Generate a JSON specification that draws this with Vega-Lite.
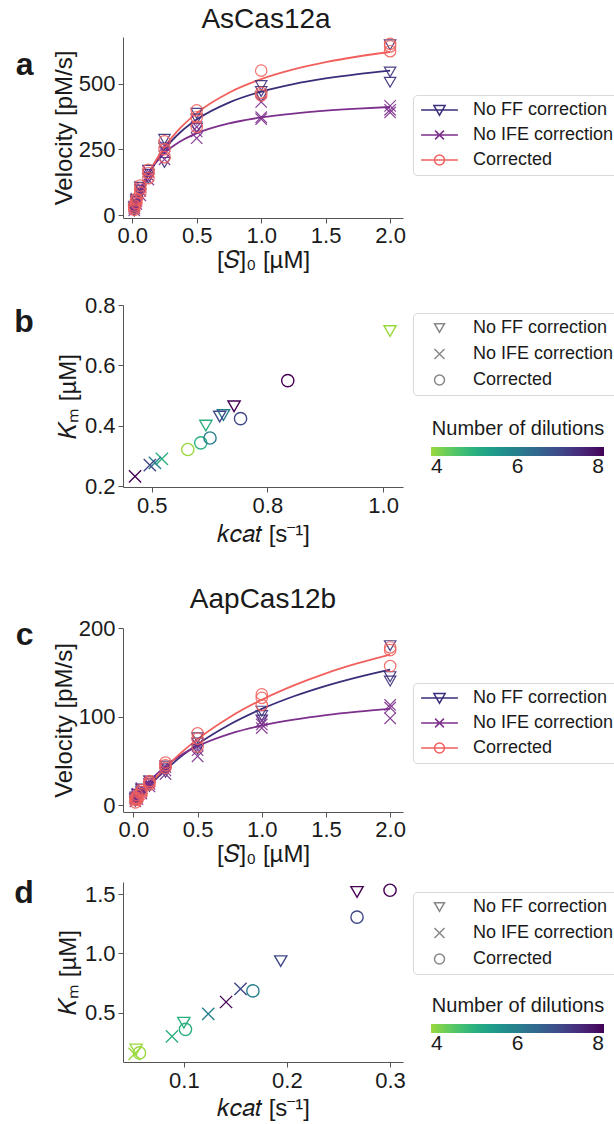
{
"$schema": "https://vega.github.io/schema/vega-lite/v6.json",
"autosize": {"type": "none"},
"padding": {"left": 123, "top": 0, "right": 491, "bottom": 1124},
"background": "white",
"config": {
  "font": "Liberation Sans",
  "view": {"stroke": null},
  "axis": {"grid": false, "labelFontSize": 22, "titleFontSize": 24, "titleFontWeight": "normal", "labelColor": "#1a1a1a", "titleColor": "#1a1a1a", "domainColor": "#555555", "tickColor": "#555555", "tickSize": 5, "labelPadding": 3, "labelFlush": false, "labelOverlap": false},
  "title": {"fontSize": 28, "fontWeight": "normal", "color": "#1a1a1a"},
  "legend": {"labelFontSize": 18, "labelColor": "#1a1a1a", "titleColor": "#1a1a1a"}
},
"datasets": {
"kin": [
{"p":"a","s":"No FF correction","S":0.015625,"v":15},{"p":"a","s":"No FF correction","S":0.015625,"v":22},{"p":"a","s":"No FF correction","S":0.015625,"v":30},
{"p":"a","s":"No FF correction","S":0.03125,"v":40},{"p":"a","s":"No FF correction","S":0.03125,"v":50},{"p":"a","s":"No FF correction","S":0.03125,"v":58},
{"p":"a","s":"No FF correction","S":0.0625,"v":80},{"p":"a","s":"No FF correction","S":0.0625,"v":95},{"p":"a","s":"No FF correction","S":0.0625,"v":105},
{"p":"a","s":"No FF correction","S":0.125,"v":140},{"p":"a","s":"No FF correction","S":0.125,"v":155},{"p":"a","s":"No FF correction","S":0.125,"v":170},
{"p":"a","s":"No FF correction","S":0.25,"v":200},{"p":"a","s":"No FF correction","S":0.25,"v":255},{"p":"a","s":"No FF correction","S":0.25,"v":288},
{"p":"a","s":"No FF correction","S":0.5,"v":330},{"p":"a","s":"No FF correction","S":0.5,"v":365},{"p":"a","s":"No FF correction","S":0.5,"v":387},
{"p":"a","s":"No FF correction","S":1,"v":450},{"p":"a","s":"No FF correction","S":1,"v":470},{"p":"a","s":"No FF correction","S":1,"v":492},
{"p":"a","s":"No FF correction","S":2,"v":505},{"p":"a","s":"No FF correction","S":2,"v":544},{"p":"a","s":"No FF correction","S":2,"v":647},
{"p":"a","s":"No IFE correction","S":0.015625,"v":18},{"p":"a","s":"No IFE correction","S":0.015625,"v":26},{"p":"a","s":"No IFE correction","S":0.015625,"v":33},
{"p":"a","s":"No IFE correction","S":0.03125,"v":42},{"p":"a","s":"No IFE correction","S":0.03125,"v":52},{"p":"a","s":"No IFE correction","S":0.03125,"v":62},
{"p":"a","s":"No IFE correction","S":0.0625,"v":75},{"p":"a","s":"No IFE correction","S":0.0625,"v":92},{"p":"a","s":"No IFE correction","S":0.0625,"v":108},
{"p":"a","s":"No IFE correction","S":0.125,"v":135},{"p":"a","s":"No IFE correction","S":0.125,"v":150},{"p":"a","s":"No IFE correction","S":0.125,"v":165},
{"p":"a","s":"No IFE correction","S":0.25,"v":212},{"p":"a","s":"No IFE correction","S":0.25,"v":240},{"p":"a","s":"No IFE correction","S":0.25,"v":262},
{"p":"a","s":"No IFE correction","S":0.5,"v":292},{"p":"a","s":"No IFE correction","S":0.5,"v":318},{"p":"a","s":"No IFE correction","S":0.5,"v":335},
{"p":"a","s":"No IFE correction","S":1,"v":365},{"p":"a","s":"No IFE correction","S":1,"v":372},{"p":"a","s":"No IFE correction","S":1,"v":430},
{"p":"a","s":"No IFE correction","S":2,"v":390},{"p":"a","s":"No IFE correction","S":2,"v":400},{"p":"a","s":"No IFE correction","S":2,"v":415},
{"p":"a","s":"Corrected","S":0.015625,"v":20},{"p":"a","s":"Corrected","S":0.015625,"v":28},{"p":"a","s":"Corrected","S":0.015625,"v":36},
{"p":"a","s":"Corrected","S":0.03125,"v":45},{"p":"a","s":"Corrected","S":0.03125,"v":55},{"p":"a","s":"Corrected","S":0.03125,"v":62},
{"p":"a","s":"Corrected","S":0.0625,"v":85},{"p":"a","s":"Corrected","S":0.0625,"v":100},{"p":"a","s":"Corrected","S":0.0625,"v":112},
{"p":"a","s":"Corrected","S":0.125,"v":140},{"p":"a","s":"Corrected","S":0.125,"v":160},{"p":"a","s":"Corrected","S":0.125,"v":172},
{"p":"a","s":"Corrected","S":0.25,"v":220},{"p":"a","s":"Corrected","S":0.25,"v":250},{"p":"a","s":"Corrected","S":0.25,"v":280},
{"p":"a","s":"Corrected","S":0.5,"v":335},{"p":"a","s":"Corrected","S":0.5,"v":372},{"p":"a","s":"Corrected","S":0.5,"v":398},
{"p":"a","s":"Corrected","S":1,"v":455},{"p":"a","s":"Corrected","S":1,"v":465},{"p":"a","s":"Corrected","S":1,"v":549},
{"p":"a","s":"Corrected","S":2,"v":623},{"p":"a","s":"Corrected","S":2,"v":641},{"p":"a","s":"Corrected","S":2,"v":651},
{"p":"c","s":"No FF correction","S":0.015625,"v":4},{"p":"c","s":"No FF correction","S":0.015625,"v":6},{"p":"c","s":"No FF correction","S":0.015625,"v":8},
{"p":"c","s":"No FF correction","S":0.03125,"v":6},{"p":"c","s":"No FF correction","S":0.03125,"v":9},{"p":"c","s":"No FF correction","S":0.03125,"v":12},
{"p":"c","s":"No FF correction","S":0.0625,"v":12},{"p":"c","s":"No FF correction","S":0.0625,"v":15},{"p":"c","s":"No FF correction","S":0.0625,"v":18},
{"p":"c","s":"No FF correction","S":0.125,"v":21},{"p":"c","s":"No FF correction","S":0.125,"v":24},{"p":"c","s":"No FF correction","S":0.125,"v":27},
{"p":"c","s":"No FF correction","S":0.25,"v":37},{"p":"c","s":"No FF correction","S":0.25,"v":41},{"p":"c","s":"No FF correction","S":0.25,"v":44},
{"p":"c","s":"No FF correction","S":0.5,"v":63},{"p":"c","s":"No FF correction","S":0.5,"v":70},{"p":"c","s":"No FF correction","S":0.5,"v":76},
{"p":"c","s":"No FF correction","S":1,"v":96},{"p":"c","s":"No FF correction","S":1,"v":101},{"p":"c","s":"No FF correction","S":1,"v":106},
{"p":"c","s":"No FF correction","S":2,"v":140},{"p":"c","s":"No FF correction","S":2,"v":145},{"p":"c","s":"No FF correction","S":2,"v":180},
{"p":"c","s":"No IFE correction","S":0.015625,"v":4},{"p":"c","s":"No IFE correction","S":0.015625,"v":7},{"p":"c","s":"No IFE correction","S":0.015625,"v":9},
{"p":"c","s":"No IFE correction","S":0.03125,"v":7},{"p":"c","s":"No IFE correction","S":0.03125,"v":10},{"p":"c","s":"No IFE correction","S":0.03125,"v":13},
{"p":"c","s":"No IFE correction","S":0.0625,"v":13},{"p":"c","s":"No IFE correction","S":0.0625,"v":16},{"p":"c","s":"No IFE correction","S":0.0625,"v":19},
{"p":"c","s":"No IFE correction","S":0.125,"v":21},{"p":"c","s":"No IFE correction","S":0.125,"v":24},{"p":"c","s":"No IFE correction","S":0.125,"v":27},
{"p":"c","s":"No IFE correction","S":0.25,"v":35},{"p":"c","s":"No IFE correction","S":0.25,"v":39},{"p":"c","s":"No IFE correction","S":0.25,"v":43},
{"p":"c","s":"No IFE correction","S":0.5,"v":55},{"p":"c","s":"No IFE correction","S":0.5,"v":62},{"p":"c","s":"No IFE correction","S":0.5,"v":68},
{"p":"c","s":"No IFE correction","S":1,"v":87},{"p":"c","s":"No IFE correction","S":1,"v":91},{"p":"c","s":"No IFE correction","S":1,"v":95},
{"p":"c","s":"No IFE correction","S":2,"v":98},{"p":"c","s":"No IFE correction","S":2,"v":110},{"p":"c","s":"No IFE correction","S":2,"v":113},
{"p":"c","s":"Corrected","S":0.015625,"v":3},{"p":"c","s":"Corrected","S":0.015625,"v":6},{"p":"c","s":"Corrected","S":0.015625,"v":8},
{"p":"c","s":"Corrected","S":0.03125,"v":6},{"p":"c","s":"Corrected","S":0.03125,"v":8},{"p":"c","s":"Corrected","S":0.03125,"v":11},
{"p":"c","s":"Corrected","S":0.0625,"v":12},{"p":"c","s":"Corrected","S":0.0625,"v":15},{"p":"c","s":"Corrected","S":0.0625,"v":17},
{"p":"c","s":"Corrected","S":0.125,"v":23},{"p":"c","s":"Corrected","S":0.125,"v":25},{"p":"c","s":"Corrected","S":0.125,"v":27},
{"p":"c","s":"Corrected","S":0.25,"v":42},{"p":"c","s":"Corrected","S":0.25,"v":45},{"p":"c","s":"Corrected","S":0.25,"v":48},
{"p":"c","s":"Corrected","S":0.5,"v":66},{"p":"c","s":"Corrected","S":0.5,"v":75},{"p":"c","s":"Corrected","S":0.5,"v":81},
{"p":"c","s":"Corrected","S":1,"v":113},{"p":"c","s":"Corrected","S":1,"v":121},{"p":"c","s":"Corrected","S":1,"v":125},
{"p":"c","s":"Corrected","S":2,"v":157},{"p":"c","s":"Corrected","S":2,"v":175},{"p":"c","s":"Corrected","S":2,"v":178}
],
"fit": [
{"p":"a","s":"No FF correction","S":0.015625,"v":24.2},{"p":"a","s":"No FF correction","S":0.03125,"v":46.8},{"p":"a","s":"No FF correction","S":0.0625,"v":87.4},{"p":"a","s":"No FF correction","S":0.125,"v":154.4},{"p":"a","s":"No FF correction","S":0.25,"v":250.4},{"p":"a","s":"No FF correction","S":0.375,"v":315.8},{"p":"a","s":"No FF correction","S":0.5,"v":363.3},{"p":"a","s":"No FF correction","S":0.75,"v":427.6},{"p":"a","s":"No FF correction","S":1,"v":469.2},{"p":"a","s":"No FF correction","S":1.25,"v":498.2},{"p":"a","s":"No FF correction","S":1.5,"v":519.6},{"p":"a","s":"No FF correction","S":1.75,"v":536.1},{"p":"a","s":"No FF correction","S":2,"v":549.2},
{"p":"a","s":"No IFE correction","S":0.015625,"v":28.1},{"p":"a","s":"No IFE correction","S":0.03125,"v":53.0},{"p":"a","s":"No IFE correction","S":0.0625,"v":95.0},{"p":"a","s":"No IFE correction","S":0.125,"v":157.5},{"p":"a","s":"No IFE correction","S":0.25,"v":234.7},{"p":"a","s":"No IFE correction","S":0.375,"v":280.5},{"p":"a","s":"No IFE correction","S":0.5,"v":310.8},{"p":"a","s":"No IFE correction","S":0.75,"v":348.5},{"p":"a","s":"No IFE correction","S":1,"v":371.0},{"p":"a","s":"No IFE correction","S":1.25,"v":385.9},{"p":"a","s":"No IFE correction","S":1.5,"v":396.6},{"p":"a","s":"No IFE correction","S":1.75,"v":404.5},{"p":"a","s":"No IFE correction","S":2,"v":410.7},
{"p":"a","s":"Corrected","S":0.015625,"v":23.4},{"p":"a","s":"Corrected","S":0.03125,"v":45.6},{"p":"a","s":"Corrected","S":0.0625,"v":86.1},{"p":"a","s":"Corrected","S":0.125,"v":155.0},{"p":"a","s":"Corrected","S":0.25,"v":258.3},{"p":"a","s":"Corrected","S":0.375,"v":332.1},{"p":"a","s":"Corrected","S":0.5,"v":387.5},{"p":"a","s":"Corrected","S":0.75,"v":465.0},{"p":"a","s":"Corrected","S":1,"v":516.7},{"p":"a","s":"Corrected","S":1.25,"v":553.6},{"p":"a","s":"Corrected","S":1.5,"v":581.3},{"p":"a","s":"Corrected","S":1.75,"v":602.8},{"p":"a","s":"Corrected","S":2,"v":620.0},
{"p":"c","s":"No FF correction","S":0.015625,"v":2.9},{"p":"c","s":"No FF correction","S":0.03125,"v":5.7},{"p":"c","s":"No FF correction","S":0.0625,"v":11.2},{"p":"c","s":"No FF correction","S":0.125,"v":21.5},{"p":"c","s":"No FF correction","S":0.25,"v":39.6},{"p":"c","s":"No FF correction","S":0.375,"v":55.2},{"p":"c","s":"No FF correction","S":0.5,"v":68.7},{"p":"c","s":"No FF correction","S":0.75,"v":91.0},{"p":"c","s":"No FF correction","S":1,"v":108.6},{"p":"c","s":"No FF correction","S":1.25,"v":122.9},{"p":"c","s":"No FF correction","S":1.5,"v":134.7},{"p":"c","s":"No FF correction","S":1.75,"v":144.6},{"p":"c","s":"No FF correction","S":2,"v":153.0},
{"p":"c","s":"No IFE correction","S":0.015625,"v":3.9},{"p":"c","s":"No IFE correction","S":0.03125,"v":7.6},{"p":"c","s":"No IFE correction","S":0.0625,"v":14.4},{"p":"c","s":"No IFE correction","S":0.125,"v":26.1},{"p":"c","s":"No IFE correction","S":0.25,"v":43.9},{"p":"c","s":"No IFE correction","S":0.375,"v":56.8},{"p":"c","s":"No IFE correction","S":0.5,"v":66.5},{"p":"c","s":"No IFE correction","S":0.75,"v":80.4},{"p":"c","s":"No IFE correction","S":1,"v":89.7},{"p":"c","s":"No IFE correction","S":1.25,"v":96.4},{"p":"c","s":"No IFE correction","S":1.5,"v":101.5},{"p":"c","s":"No IFE correction","S":1.75,"v":105.4},{"p":"c","s":"No IFE correction","S":2,"v":108.6},
{"p":"c","s":"Corrected","S":0.015625,"v":3.1},{"p":"c","s":"Corrected","S":0.03125,"v":6.1},{"p":"c","s":"Corrected","S":0.0625,"v":11.9},{"p":"c","s":"Corrected","S":0.125,"v":22.9},{"p":"c","s":"Corrected","S":0.25,"v":42.5},{"p":"c","s":"Corrected","S":0.375,"v":59.5},{"p":"c","s":"Corrected","S":0.5,"v":74.4},{"p":"c","s":"Corrected","S":0.75,"v":99.2},{"p":"c","s":"Corrected","S":1,"v":119.0},{"p":"c","s":"Corrected","S":1.25,"v":135.2},{"p":"c","s":"Corrected","S":1.5,"v":148.8},{"p":"c","s":"Corrected","S":1.75,"v":160.2},{"p":"c","s":"Corrected","S":2,"v":170.0}
],
"km": [
{"p":"b","s":"No FF correction","n":4,"k":1.015,"km":0.714},
{"p":"b","s":"No FF correction","n":5,"k":0.617,"km":0.401},
{"p":"b","s":"No FF correction","n":6,"k":0.655,"km":0.436},
{"p":"b","s":"No FF correction","n":7,"k":0.647,"km":0.431},
{"p":"b","s":"No FF correction","n":8,"k":0.678,"km":0.465},
{"p":"b","s":"No IFE correction","n":5,"k":0.522,"km":0.291},
{"p":"b","s":"No IFE correction","n":6,"k":0.507,"km":0.278},
{"p":"b","s":"No IFE correction","n":7,"k":0.496,"km":0.270},
{"p":"b","s":"No IFE correction","n":8,"k":0.464,"km":0.233},
{"p":"b","s":"Corrected","n":4,"k":0.578,"km":0.322},
{"p":"b","s":"Corrected","n":5,"k":0.606,"km":0.344},
{"p":"b","s":"Corrected","n":6,"k":0.626,"km":0.360},
{"p":"b","s":"Corrected","n":7,"k":0.692,"km":0.424},
{"p":"b","s":"Corrected","n":8,"k":0.794,"km":0.550},
{"p":"d","s":"No FF correction","n":4,"k":0.0537,"km":0.189},
{"p":"d","s":"No FF correction","n":5,"k":0.100,"km":0.415},
{"p":"d","s":"No FF correction","n":7,"k":0.194,"km":0.935},
{"p":"d","s":"No FF correction","n":8,"k":0.268,"km":1.52},
{"p":"d","s":"No IFE correction","n":4,"k":0.0522,"km":0.152},
{"p":"d","s":"No IFE correction","n":5,"k":0.0885,"km":0.300},
{"p":"d","s":"No IFE correction","n":6,"k":0.1237,"km":0.490},
{"p":"d","s":"No IFE correction","n":7,"k":0.155,"km":0.700},
{"p":"d","s":"No IFE correction","n":8,"k":0.141,"km":0.590},
{"p":"d","s":"Corrected","n":4,"k":0.057,"km":0.160},
{"p":"d","s":"Corrected","n":5,"k":0.1016,"km":0.359},
{"p":"d","s":"Corrected","n":6,"k":0.167,"km":0.684},
{"p":"d","s":"Corrected","n":7,"k":0.268,"km":1.307},
{"p":"d","s":"Corrected","n":8,"k":0.300,"km":1.534}
]
},
"bounds": "flush",
"spacing": 0,
"resolve": {"scale": {"color": "independent", "shape": "independent"}, "legend": {"color": "independent", "shape": "independent"}},
"vconcat": [
  {
    "width": 280, "height": 37,
    "title": {"text": "AsCas12a", "orient": "bottom", "anchor": "middle", "frame": "group", "baseline": "alphabetic", "offset": -9, "dx": 3},
    "data": {"values": [{"z": 0}]},
    "mark": {"type": "point", "opacity": 0},
    "encoding": {}
  },
  {
    "width": 280, "height": 181,
    "title": {"text": "a", "orient": "left", "anchor": "end", "frame": "group", "angle": 0, "align": "right", "baseline": "alphabetic", "fontSize": 32, "fontWeight": "bold", "dy": 38, "offset": 1},
    "layer": [
      {
        "data": {"name": "fit"},
        "transform": [{"filter": "datum.p === 'a'"}],
        "mark": {"type": "line", "strokeWidth": 1.8, "interpolate": "monotone"},
        "encoding": {
          "x": {"field": "S", "type": "quantitative", "scale": {"domain": [-0.072, 2.1], "nice": false, "zero": false}, "axis": {"values": [0, 0.5, 1, 1.5, 2], "format": ".1f", "title": "[𝑆]₀ [µM]", "labelPadding": 2, "titlePadding": 2}},
          "y": {"field": "v", "type": "quantitative", "scale": {"domain": [-11.4, 677], "nice": false, "zero": false}, "axis": {"values": [0, 250, 500], "title": "Velocity [pM/s]", "titlePadding": 2}},
          "color": {"field": "s", "type": "nominal", "scale": {"domain": ["No FF correction", "No IFE correction", "Corrected"], "range": ["#3b2d7a", "#7d2f8c", "#f1605d"]},
            "legend": {"title": null, "orient": "none", "legendX": 290, "legendY": 58, "padding": 6, "strokeColor": "#d9d9d9", "fillColor": "#ffffff", "cornerRadius": 4, "labelFontSize": 18, "labelOffset": 24.5, "symbolOffset": 11.5, "symbolSize": 256, "symbolStrokeWidth": 1.5, "rowPadding": 7, "labelLimit": 300,
              "encode": {"symbols": {"update": {"shape": {"signal": "datum.value === 'Corrected' ? 'M-2.3,0H2.3M0.62,0A0.62,0.62 0 1 1 -0.62,0A0.62,0.62 0 1 1 0.62,0' : datum.value === 'No FF correction' ? 'M-2.3,0H2.3M-0.7,-0.55L0.7,-0.55L0,0.65Z' : 'M-2.3,0H2.3M-0.55,-0.55L0.55,0.55M-0.55,0.55L0.55,-0.55'"}, "fill": {"value": "transparent"}}}}}}
        }
      },
      {
        "data": {"name": "kin"},
        "transform": [{"filter": "datum.p === 'a'"}],
        "mark": {"type": "point", "filled": false, "strokeWidth": 1.2, "size": 130, "opacity": 0.9},
        "encoding": {
          "x": {"field": "S", "type": "quantitative"},
          "y": {"field": "v", "type": "quantitative"},
          "color": {"field": "s", "type": "nominal"},
          "shape": {"field": "s", "type": "nominal", "scale": {"domain": ["Corrected", "No FF correction", "No IFE correction"], "range": ["circle", "triangle-down", "M-1,-1L1,1M-1,1L1,-1"]}, "legend": null}
        }
      }
    ]
  },
  {"width": 280, "height": 87, "data": {"values": [{"z": 0}]}, "mark": {"type": "point", "opacity": 0}, "encoding": {}},
  {
    "width": 280, "height": 182,
    "title": {"text": "b", "orient": "left", "anchor": "end", "frame": "group", "angle": 0, "align": "right", "baseline": "alphabetic", "fontSize": 32, "fontWeight": "bold", "dy": 27, "offset": 3},
    "data": {"name": "km"},
    "transform": [{"filter": "datum.p === 'b'"}],
    "mark": {"type": "point", "filled": false, "strokeWidth": 1.4, "size": 150, "opacity": 1},
    "encoding": {
      "x": {"field": "k", "type": "quantitative", "scale": {"domain": [0.438, 1.043], "nice": false, "zero": false}, "axis": {"values": [0.5, 0.75, 1.0], "format": ".1f", "title": "𝑘𝑐𝑎𝑡 [s⁻¹]", "titlePadding": 6}},
      "y": {"field": "km", "type": "quantitative", "scale": {"domain": [0.198, 0.8], "nice": false, "zero": false}, "axis": {"values": [0.2, 0.4, 0.6, 0.8], "format": ".1f", "title": "𝐾ₘ [µM]", "titlePadding": 4}},
      "color": {"field": "n", "type": "quantitative", "scale": {"domain": [4, 8], "scheme": {"name": "viridis", "extent": [0.85, 0]}},
        "legend": {"title": "Number of dilutions", "orient": "none", "legendX": 308, "legendY": 114, "direction": "horizontal", "gradientLength": 173, "gradientThickness": 9, "gradientStrokeWidth": 0, "values": [4, 6, 8], "labelFontSize": 21, "labelOffset": 0, "labelAlign": "center", "titleFontSize": 20, "titleFontWeight": "normal", "titlePadding": 8, "titleAnchor": "middle", "padding": 0}},
      "shape": {"field": "s", "type": "nominal", "scale": {"domain": ["No FF correction", "No IFE correction", "Corrected"], "range": ["triangle-down", "M-1,-1L1,1M-1,1L1,-1", "circle"]},
        "legend": {"title": null, "orient": "none", "legendX": 290, "legendY": 8, "padding": 6, "strokeColor": "#d9d9d9", "fillColor": "#ffffff", "cornerRadius": 4, "labelFontSize": 18, "labelOffset": 24.5, "symbolOffset": 11.5, "symbolSize": 100, "rowPadding": 8, "labelLimit": 300,
          "encode": {"symbols": {"update": {"fill": {"value": "transparent"}, "stroke": {"value": "#555555"}, "strokeWidth": {"value": 1.2}}}}}}
    }
  },
  {
    "width": 280, "height": 141,
    "title": {"text": "AapCas12b", "orient": "bottom", "anchor": "middle", "frame": "group", "baseline": "alphabetic", "offset": -20},
    "data": {"values": [{"z": 0}]},
    "mark": {"type": "point", "opacity": 0},
    "encoding": {}
  },
  {
    "width": 280, "height": 184,
    "title": {"text": "c", "orient": "left", "anchor": "end", "frame": "group", "angle": 0, "align": "right", "baseline": "alphabetic", "fontSize": 32, "fontWeight": "bold", "dy": 17, "offset": 1},
    "layer": [
      {
        "data": {"name": "fit"},
        "transform": [{"filter": "datum.p === 'c'"}],
        "mark": {"type": "line", "strokeWidth": 1.8, "interpolate": "monotone"},
        "encoding": {
          "x": {"field": "S", "type": "quantitative", "scale": {"domain": [-0.081, 2.1], "nice": false, "zero": false}, "axis": {"values": [0, 0.5, 1, 1.5, 2], "format": ".1f", "title": "[𝑆]₀ [µM]", "labelPadding": 2, "titlePadding": 2}},
          "y": {"field": "v", "type": "quantitative", "scale": {"domain": [-7.9, 200], "nice": false, "zero": false}, "axis": {"values": [0, 100, 200], "title": "Velocity [pM/s]", "titlePadding": 2}},
          "color": {"field": "s", "type": "nominal", "scale": {"domain": ["No FF correction", "No IFE correction", "Corrected"], "range": ["#3b2d7a", "#7d2f8c", "#f1605d"]},
            "legend": {"title": null, "orient": "none", "legendX": 290, "legendY": 55, "padding": 6, "strokeColor": "#d9d9d9", "fillColor": "#ffffff", "cornerRadius": 4, "labelFontSize": 18, "labelOffset": 24.5, "symbolOffset": 11.5, "symbolSize": 256, "symbolStrokeWidth": 1.5, "rowPadding": 7, "labelLimit": 300,
              "encode": {"symbols": {"update": {"shape": {"signal": "datum.value === 'Corrected' ? 'M-2.3,0H2.3M0.62,0A0.62,0.62 0 1 1 -0.62,0A0.62,0.62 0 1 1 0.62,0' : datum.value === 'No FF correction' ? 'M-2.3,0H2.3M-0.7,-0.55L0.7,-0.55L0,0.65Z' : 'M-2.3,0H2.3M-0.55,-0.55L0.55,0.55M-0.55,0.55L0.55,-0.55'"}, "fill": {"value": "transparent"}}}}}}
        }
      },
      {
        "data": {"name": "kin"},
        "transform": [{"filter": "datum.p === 'c'"}],
        "mark": {"type": "point", "filled": false, "strokeWidth": 1.2, "size": 130, "opacity": 0.9},
        "encoding": {
          "x": {"field": "S", "type": "quantitative"},
          "y": {"field": "v", "type": "quantitative"},
          "color": {"field": "s", "type": "nominal"},
          "shape": {"field": "s", "type": "nominal", "scale": {"domain": ["Corrected", "No FF correction", "No IFE correction"], "range": ["circle", "triangle-down", "M-1,-1L1,1M-1,1L1,-1"]}, "legend": null}
        }
      }
    ]
  },
  {"width": 280, "height": 70, "data": {"values": [{"z": 0}]}, "mark": {"type": "point", "opacity": 0}, "encoding": {}},
  {
    "width": 280, "height": 180,
    "title": {"text": "d", "orient": "left", "anchor": "end", "frame": "group", "angle": 0, "align": "right", "baseline": "alphabetic", "fontSize": 32, "fontWeight": "bold", "dy": 21, "offset": 3},
    "data": {"name": "km"},
    "transform": [{"filter": "datum.p === 'd'"}],
    "mark": {"type": "point", "filled": false, "strokeWidth": 1.4, "size": 150, "opacity": 1},
    "encoding": {
      "x": {"field": "k", "type": "quantitative", "scale": {"domain": [0.041, 0.3126], "nice": false, "zero": false}, "axis": {"values": [0.1, 0.2, 0.3], "format": ".1f", "title": "𝑘𝑐𝑎𝑡 [s⁻¹]", "titlePadding": 5}},
      "y": {"field": "km", "type": "quantitative", "scale": {"domain": [0.083, 1.604], "nice": false, "zero": false}, "axis": {"values": [0.5, 1.0, 1.5], "format": ".1f", "title": "𝐾ₘ [µM]", "titlePadding": 4}},
      "color": {"field": "n", "type": "quantitative", "scale": {"domain": [4, 8], "scheme": {"name": "viridis", "extent": [0.85, 0]}},
        "legend": {"title": "Number of dilutions", "orient": "none", "legendX": 308, "legendY": 114, "direction": "horizontal", "gradientLength": 173, "gradientThickness": 9, "gradientStrokeWidth": 0, "values": [4, 6, 8], "labelFontSize": 21, "labelOffset": 0, "labelAlign": "center", "titleFontSize": 20, "titleFontWeight": "normal", "titlePadding": 8, "titleAnchor": "middle", "padding": 0}},
      "shape": {"field": "s", "type": "nominal", "scale": {"domain": ["No FF correction", "No IFE correction", "Corrected"], "range": ["triangle-down", "M-1,-1L1,1M-1,1L1,-1", "circle"]},
        "legend": {"title": null, "orient": "none", "legendX": 290, "legendY": 10, "padding": 6, "strokeColor": "#d9d9d9", "fillColor": "#ffffff", "cornerRadius": 4, "labelFontSize": 18, "labelOffset": 24.5, "symbolOffset": 11.5, "symbolSize": 100, "rowPadding": 8, "labelLimit": 300,
          "encode": {"symbols": {"update": {"fill": {"value": "transparent"}, "stroke": {"value": "#555555"}, "strokeWidth": {"value": 1.2}}}}}}
    }
  }
]
}
